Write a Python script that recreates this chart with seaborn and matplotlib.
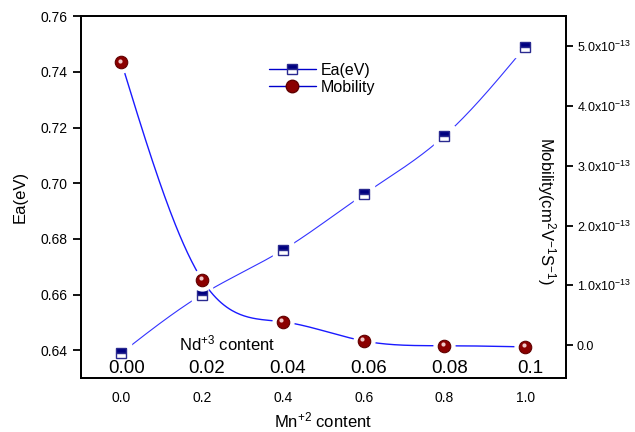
import numpy as np
import pandas as pd
import matplotlib
matplotlib.use("Agg")
import matplotlib.pyplot as plt
import matplotlib.transforms as mtransforms
from matplotlib.lines import Line2D
import seaborn as sns

# Mn+2 content (bottom axis) and matching Nd+3 content labels
mn_content = [0.0, 0.2, 0.4, 0.6, 0.8, 1.0]
nd_labels = ["0.00", "0.02", "0.04", "0.06", "0.08", "0.1"]

# Activation energy (eV) and mobility (cm^2 V^-1 s^-1)
ea_ev = [0.639, 0.660, 0.676, 0.696, 0.717, 0.749]
mobility = [4.73e-13, 1.09e-13, 0.39e-13, 0.07e-13, -0.01e-13, -0.03e-13]

# right-axis tick values
mob_ticks = [0.0, 1.0e-13, 2.0e-13, 3.0e-13, 4.0e-13, 5.0e-13]


def natural_spline(x, y, n=300):
    """Natural cubic spline through (x, y), evaluated on a dense grid."""
    x = np.asarray(x, float)
    y = np.asarray(y, float)
    k = len(x)
    h = np.diff(x)
    A = np.zeros((k, k))
    b = np.zeros(k)
    A[0, 0] = A[-1, -1] = 1.0
    for i in range(1, k - 1):
        A[i, i - 1] = h[i - 1]
        A[i, i] = 2 * (h[i - 1] + h[i])
        A[i, i + 1] = h[i]
        b[i] = 6 * ((y[i + 1] - y[i]) / h[i] - (y[i] - y[i - 1]) / h[i - 1])
    m = np.linalg.solve(A, b)
    xs = np.linspace(x[0], x[-1], n)
    idx = np.clip(np.searchsorted(x, xs) - 1, 0, k - 2)
    x0, x1 = x[idx], x[idx + 1]
    hh = x1 - x0
    t0, t1 = x1 - xs, xs - x0
    ys = (m[idx] * t0 ** 3 + m[idx + 1] * t1 ** 3) / (6 * hh) \
        + (y[idx] / hh - m[idx] * hh / 6) * t0 \
        + (y[idx + 1] / hh - m[idx + 1] * hh / 6) * t1
    return xs, ys


sns.set_theme(style="ticks")
plt.rcParams["font.family"] = ["Liberation Sans", "DejaVu Sans"]
plt.rcParams["mathtext.fontset"] = "custom"
plt.rcParams["mathtext.rm"] = "Liberation Sans"
plt.rcParams["mathtext.it"] = "Liberation Sans:italic"
plt.rcParams["mathtext.default"] = "regular"
plt.rcParams["text.color"] = "black"
plt.rcParams["axes.labelcolor"] = "black"
plt.rcParams["xtick.color"] = "black"
plt.rcParams["ytick.color"] = "black"

fig = plt.figure(figsize=(6.35, 4.32), dpi=100)
ax = fig.add_axes([0.1276, 0.125, 0.763, 0.8373])
ax2 = ax.twinx()

df = pd.DataFrame({"mn": mn_content, "ea": ea_ev, "mob": mobility})

xe, ye = natural_spline(df["mn"], df["ea"])
xm, ym = natural_spline(df["mn"], df["mob"])

# smooth connecting curves
sns.lineplot(x=xe, y=ye, ax=ax, color="#3333ff", lw=0.8, sort=False,
             estimator=None, zorder=2)
sns.lineplot(x=xm, y=ym, ax=ax2, color="#1a1aff", lw=1.0, sort=False,
             estimator=None, zorder=2)

# white halos leave a small gap between curve and symbol
ax.plot(df["mn"], df["ea"], ls="none", marker="s", ms=14, color="white", zorder=3)
ax2.plot(df["mn"], df["mob"], ls="none", marker="o", ms=15, color="white", zorder=3)

ax.plot(df["mn"], df["ea"], ls="none", marker="s", ms=7.5, fillstyle="top",
        markerfacecolor="#000080", markerfacecoloralt="white",
        markeredgecolor="#2a2a90", mew=1.0, zorder=4)
ax2.plot(df["mn"], df["mob"], ls="none", marker="o", ms=9,
         markerfacecolor="#8b0000", markeredgecolor="#600000", mew=0.8, zorder=4)
shine = mtransforms.offset_copy(ax2.transData, fig=fig, x=-1.5, y=1.5, units="dots")
ax2.plot(df["mn"], df["mob"], ls="none", marker="o", ms=3, transform=shine,
         markerfacecolor="#f0c8c8", markeredgecolor="none", zorder=5)

# axes limits and ticks
ax.set_xlim(-0.1, 1.1)
ax.set_ylim(0.630, 0.760)
ax2.set_ylim(-0.55e-13, 5.5e-13)

ax.set_xticks(mn_content)
ax.set_xticklabels([f"{v:.1f}" for v in mn_content])
ax.set_yticks(np.arange(0.64, 0.761, 0.02))
ax.set_yticklabels([f"{v:.2f}" for v in np.arange(0.64, 0.761, 0.02)])
ax2.set_yticks(mob_ticks)
ax2.set_yticklabels(["0.0"] + [f"{v / 1e-13:.1f}x10$^{{-13}}$" for v in mob_ticks[1:]])

ax.tick_params(axis="x", length=0, pad=9, labelsize=10)
ax.tick_params(axis="y", length=6, width=1.3, pad=4, labelsize=10, direction="out")
ax2.tick_params(axis="y", length=5, width=1.3, pad=3, labelsize=9, direction="out")

for a in (ax, ax2):
    for s in a.spines.values():
        s.set_visible(True)
        s.set_linewidth(1.3)
        s.set_color("black")

ax.set_xlabel("Mn$^{+2}$ content", fontsize=12, labelpad=4)
ax.set_ylabel("Ea(eV)", fontsize=12, labelpad=9)
ax2.set_ylabel("")
ax2.text(0.961, 0.462, "Mobility(cm$^2$V$^{-1}$S$^{-1}$)", transform=ax2.transAxes,
         rotation=270, ha="center", va="center", fontsize=12)

# Nd+3 content scale written inside the plot
lab_tr = mtransforms.blended_transform_factory(ax.transData, ax.transAxes)
for xv, lab in zip(mn_content, nd_labels):
    ax.text(xv + 0.012, 0.027, lab, transform=lab_tr, ha="center", va="center",
            fontsize=13.5)
ax.text(0.262, 0.096, "Nd$^{+3}$ content", transform=lab_tr, ha="center",
        va="center", fontsize=12)

handles = [
    Line2D([], [], color="#0000cc", lw=1.0, marker="s", ms=7.5, fillstyle="top",
           markerfacecolor="#000080", markerfacecoloralt="white",
           markeredgecolor="#2a2a90"),
    Line2D([], [], color="#0000cc", lw=1.0, marker="o", ms=9,
           markerfacecolor="#8b0000", markeredgecolor="#600000"),
]
fig.legend(handles, ["Ea(eV)", "Mobility"], loc="upper left",
           bbox_to_anchor=(0.424, 0.855), frameon=False, fontsize=11.5,
           handlelength=2.9, handletextpad=0.3, labelspacing=0.15,
           borderaxespad=0, borderpad=0)

fig.savefig("out.png", dpi=100)
